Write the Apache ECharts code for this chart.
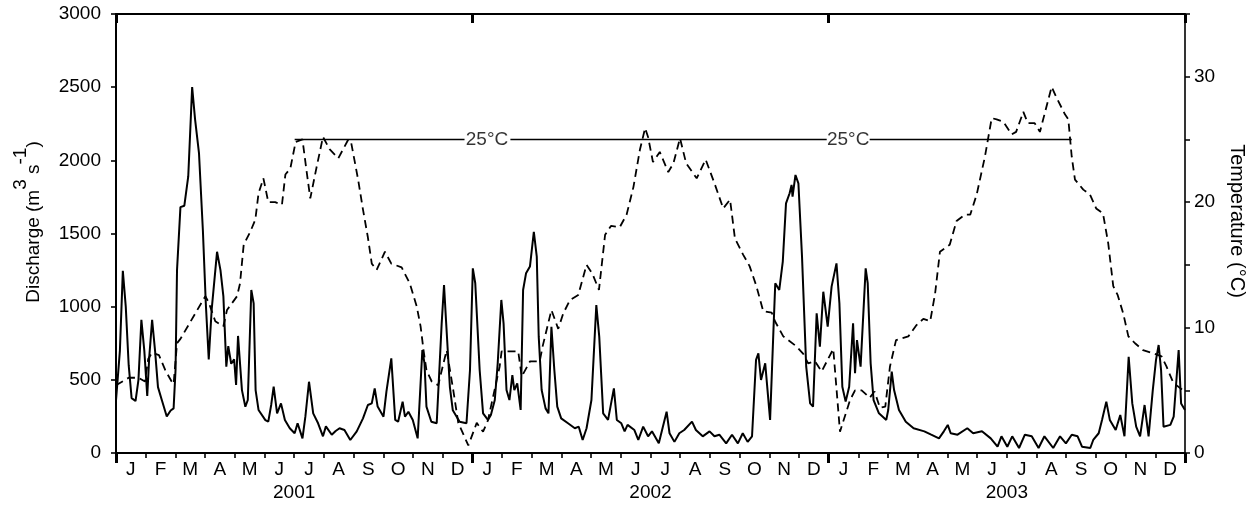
<!DOCTYPE html>
<html>
<head>
<meta charset="utf-8">
<script src="https://cdn.jsdelivr.net/npm/echarts@6/dist/echarts.min.js"></script>
<style>
html,body{margin:0;padding:0;background:#fff;}
#chart{width:1257px;height:524px;}
</style>
</head>
<body>
<div id="chart"></div>
<script>
// Days since 1 Jan 2001 (x) for each reading
const monthLabels = ['J','F','M','A','M','J','J','A','S','O','N','D','J','F','M','A','M','J','J','A','S','O','N','D','J','F','M','A','M','J','J','A','S','O','N','D'];
const yearLabels = ['2001','2002','2003'];
const totalDays = 1095;

// Discharge (m3 s-1): [day, value]
const discharge2001 = [[0,360],[4,700],[7,1245],[10,1000],[13,600],[16,375],[20,355],[23,500],[26,910],[29,700],[32,390],[34,650],[37,910],[40,700],[43,450],[47,360],[52,250],[56,290],[59,305],[61,570],[62.5,1250],[66,1680],[70,1690],[74,1890],[78,2500],[81,2280],[85,2050],[89,1520],[92,1020],[95,640],[98,980],[103.5,1375],[107,1250],[110,1070],[113,590],[115,730],[118,610],[121,640],[123,465],[125,800],[127,805],[129,430],[132.5,316],[135,362],[138.6,1114],[141,1023],[143,430],[146,294],[153,225],[156,214],[159,330],[161.5,453],[165,271],[169,339],[173,225],[178,169],[183,135],[186,203],[191,100],[194,250],[197.7,487],[202,271],[207,203],[212,114],[215,182],[221,125],[225,150],[229,169],[234,157],[240,89],[246.6,148],[253,237],[258,328],[262,339],[265,442],[268,317],[274,248],[277,419],[282,647],[286,226],[289,214],[293.6,351],[296,248],[299.5,282],[304,226],[309,100],[313.8,704],[316,613],[318,317],[323,214],[328.5,203],[333.6,886],[336,1148],[338,911],[342,451],[345,292],[352,214],[359,203],[362.6,567]];
const discharge2002 = [[365.5,1262],[368,1160],[372.5,567],[376,271],[381,226],[384,260],[388,362],[391,613],[394.7,1046],[397,886],[400,430],[403,362],[406,533],[408,430],[411,476],[414.5,294],[417,1114],[420,1228],[424,1274],[428,1512],[431,1342],[433,795],[436,430],[440,305],[443,271],[446,863],[449,567],[452,317],[456,237],[463,203],[470,169],[474,180],[478,89],[482,169],[487,362],[492,1011],[495,795],[499,271],[504,226],[510,442],[513,226],[517.6,203],[521,148],[524,192],[531,157],[535,89],[540,180],[545,114],[549,148],[556,66],[564,282],[567,135],[572,76],[577,135],[582,157],[590,214],[594,157],[601,114],[608,148],[613,114],[618,125],[625,66],[631,125],[637,66],[642,135],[647,76],[651.5,114],[655.6,636],[658,681],[660.7,499],[665,613],[670,226],[673.7,886],[675.3,1160],[679.4,1114],[683,1307],[686.3,1706],[690,1775],[692,1832],[693,1752],[696,1900],[699,1843],[702.7,1342],[707,590],[711,339],[714,317],[717.7,955],[721,727],[724.5,1102],[729,863]];
const discharge2003 = [[733,1137],[738,1296],[741,1023],[744,453],[747.4,351],[751,453],[755,886],[757,545],[759,772],[762.7,590],[767.9,1262],[770,1160],[773,613],[776,362],[781.5,271],[789,226],[791,294],[794.6,556],[797,430],[802,294],[809,214],[817,169],[828,148],[835,125],[843,100],[848,148],[852,192],[855,135],[862,125],[872,169],[878,135],[887,148],[896,100],[903,43],[907,114],[913,43],[918,114],[925,34],[931,125],[938,114],[945,34],[951,114],[960,34],[967,114],[973,66],[979,125],[985,114],[989.5,43],[998,34],[1001,89],[1006.6,135],[1010,226],[1014.4,351],[1018,226],[1024,157],[1028.7,260],[1033,114],[1037.3,658],[1041,339],[1045,180],[1049,114],[1053.6,328],[1057.7,114],[1062,430],[1065.3,636],[1068,738],[1070.5,567],[1073,180],[1080,192],[1083.4,248],[1088.5,704],[1091,339],[1095,294]];

// Temperature (°C): [day, value]
const temp2001 = [[0,5.4],[13,6.0],[23,6.0],[29.7,5.7],[33,7.5],[37,8.0],[44,7.8],[50.5,6.6],[57,5.7],[59,5.5],[62.5,8.75],[66,9.1],[91.5,12.5],[95,12.0],[101.7,10.5],[110,10.1],[113.7,11.4],[124,12.5],[127,13.5],[130.8,16.6],[137.6,17.65],[142.7,18.6],[146,20.7],[151,21.9],[156,20.0],[163,20.0],[170,19.8],[173.5,22.2],[178.6,22.7],[184,24.8],[191,25.0],[195,22.6],[199,20.3],[205.5,22.8],[212,25.2],[219,24.2],[227.7,23.5],[238,25.0],[241,24.7],[248,21.8],[253,19.4],[258,17.2],[262,15.1],[267,14.6],[275.5,16.05],[282,15.1],[292.6,14.8],[301,13.5],[308,11.7],[312,10.1],[315,8.2],[318,6.6],[323.4,5.7],[330,5.4],[338.7,8.2],[345.5,5.0],[350.6,2.4],[360.9,0.6]];
const temp2002 = [[369.5,2.4],[376,1.7],[381,2.6],[393,6.9],[395,8.1],[412,8.1],[415.6,6.1],[424,7.3],[434,7.3],[437,8.5],[446,11.4],[453,9.9],[458,11.1],[465,12.2],[473.5,12.6],[482,15.0],[488,14.3],[494.7,13.0],[501,17.4],[507,18.1],[516,18.0],[523,19.0],[530,21.2],[536.7,24.2],[542,25.9],[545,25.2],[550,23.2],[557,24.0],[565.7,22.4],[571,23.1],[577.7,25.1],[584,23.1],[594.8,21.9],[604,23.4],[613.5,21.4],[622,19.5],[629,20.2],[634,17.1],[642.5,15.8],[649,14.9],[656,13.3],[663,11.3],[671.6,11.2],[675,10.5],[683.5,9.3],[697,8.5],[704,7.9],[709,7.15],[716,7.3],[722.8,6.5]];
const temp2003 = [[734.7,8.3],[741.6,1.7],[751.8,4.2],[757,5.0],[763.8,5.0],[772,4.4],[777,4.9],[782.6,3.6],[788,3.7],[792.8,6.9],[799,9.0],[811.6,9.3],[820,10.2],[827,10.7],[834,10.5],[839,12.7],[844,16.05],[854,16.6],[861,18.5],[869.6,19.0],[875,19.0],[881.6,20.6],[890,23.6],[897,26.7],[902,26.6],[909,26.4],[917.5,25.4],[922,25.6],[929.4,27.2],[934,26.3],[941,26.3],[946.4,25.6],[958.4,29.2],[963,28.4],[972,27.0],[975.5,26.6],[979,23.6],[982.3,21.8],[990.8,21.0],[997.7,20.6],[1004,19.5],[1011,19.1],[1016.4,16.7],[1021.5,13.3],[1026,12.6],[1031.8,11.1],[1037,9.3],[1043.8,8.75],[1052,8.2],[1062.5,7.95],[1071,7.7],[1076,6.9],[1083,5.6],[1093,5.0]];

// 25 °C reference line: segments (start day, end day) and label days
const thresholdT = 25;
const thresholdSegments = [[183,357],[404,728],[772,979]];
const thresholdLabelDays = [380,750];
const thresholdLabel = '25°C';

const FONT = '"Liberation Sans", Arial, Helvetica, sans-serif';
const FS = 19;

const dischargeData = discharge2001.concat(discharge2002, discharge2003);
const tempData = temp2001.concat(temp2002, temp2003);
const thresholdData = [];
thresholdSegments.forEach(function(s, i){
  if (i > 0) thresholdData.push([s[0] - 1, null]);
  thresholdData.push([s[0], thresholdT]);
  thresholdData.push([s[1], thresholdT]);
});
const thresholdLabelData = thresholdLabelDays.map(function(d){ return [d, thresholdT]; });

const chart = echarts.init(document.getElementById('chart'), null, {renderer:'canvas'});
const axisColor = '#000';
chart.setOption({
  animation: false,
  backgroundColor: '#fff',
  grid: {left:116, right:72, top:14, bottom:71, containLabel:false},
  graphic: [
    {type:'text', x:27, y:222, rotation:Math.PI/2, z:10,
     style:{text:'{b|Discharge (m}{s|3}{b| s}{s|-1}{b|)}', align:'center', verticalAlign:'middle',
       fill:'#000', font:FS + 'px ' + FONT,
       rich:{b:{fontSize:FS, fontFamily:FONT, fill:'#000', lineHeight:32, verticalAlign:'bottom'},
             s:{fontSize:FS, fontFamily:FONT, fill:'#000', lineHeight:8, verticalAlign:'top'}}}},
    {type:'text', x:1237, y:221, rotation:-Math.PI/2, z:10,
     style:{text:'Temperature (°C)', align:'center', verticalAlign:'middle',
       fill:'#000', font:'20px ' + FONT}}
  ],
  xAxis: [
    {type:'value', min:0, max:totalDays, show:false},
    {type:'category', data:monthLabels, position:'bottom', boundaryGap:true,
     axisLine:{show:true, lineStyle:{color:axisColor, width:1.8}},
     axisTick:{show:true, inside:false, length:5, interval:0, lineStyle:{color:axisColor, width:1.6}},
     axisLabel:{interval:0, margin:7, color:'#000', fontSize:FS, fontFamily:FONT},
     splitLine:{show:false}},
    {type:'category', data:yearLabels, position:'bottom', boundaryGap:true,
     axisLine:{show:false},
     axisTick:{show:true, inside:false, length:10, lineStyle:{color:axisColor, width:3}},
     axisLabel:{interval:0, margin:30, color:'#000', fontSize:FS, fontFamily:FONT},
     splitLine:{show:false}},
    {type:'category', data:yearLabels, position:'top', boundaryGap:true,
     axisLine:{show:true, lineStyle:{color:axisColor, width:1.8}},
     axisTick:{show:true, inside:true, length:9, lineStyle:{color:axisColor, width:3}},
     axisLabel:{show:false}, splitLine:{show:false}}
  ],
  yAxis: [
    {type:'value', min:0, max:3000, interval:500, position:'left',
     axisLine:{show:true, lineStyle:{color:axisColor, width:2}},
     axisTick:{show:true, inside:false, length:5, lineStyle:{color:axisColor, width:1.6}},
     axisLabel:{margin:15, color:'#000', fontSize:FS, fontFamily:FONT,
       formatter:function(v){ return String(v); }},
     splitLine:{show:false}},
    {type:'value', min:0, max:35, interval:5, position:'right',
     axisLine:{show:true, lineStyle:{color:axisColor, width:1.6}},
     axisTick:{show:true, inside:false, length:5, lineStyle:{color:axisColor, width:1.5}},
     axisLabel:{margin:9, color:'#000', fontSize:FS, fontFamily:FONT,
       formatter:function(v){ return v % 10 === 0 ? String(v) : ''; }},
     splitLine:{show:false}}
  ],
  series: [
    {type:'line', name:'Discharge', xAxisIndex:0, yAxisIndex:0, data:dischargeData,
     showSymbol:false, symbol:'none', smooth:false,
     lineStyle:{color:'#000', width:2}, z:3},
    {type:'line', name:'Temperature', xAxisIndex:0, yAxisIndex:1, data:tempData,
     showSymbol:false, symbol:'none',
     lineStyle:{color:'#000', width:1.8, type:[8,5]}, z:2},
    {type:'line', name:'25C', xAxisIndex:0, yAxisIndex:1, data:thresholdData,
     showSymbol:false, symbol:'none', connectNulls:false,
     lineStyle:{color:'#000', width:1.4}, z:2},
    {type:'scatter', name:'25C label', xAxisIndex:0, yAxisIndex:1, data:thresholdLabelData,
     symbolSize:0,
     label:{show:true, position:'inside', formatter:thresholdLabel, color:'#000', fontSize:FS, fontFamily:FONT},
     z:4}
  ]
});
</script>
</body>
</html>
